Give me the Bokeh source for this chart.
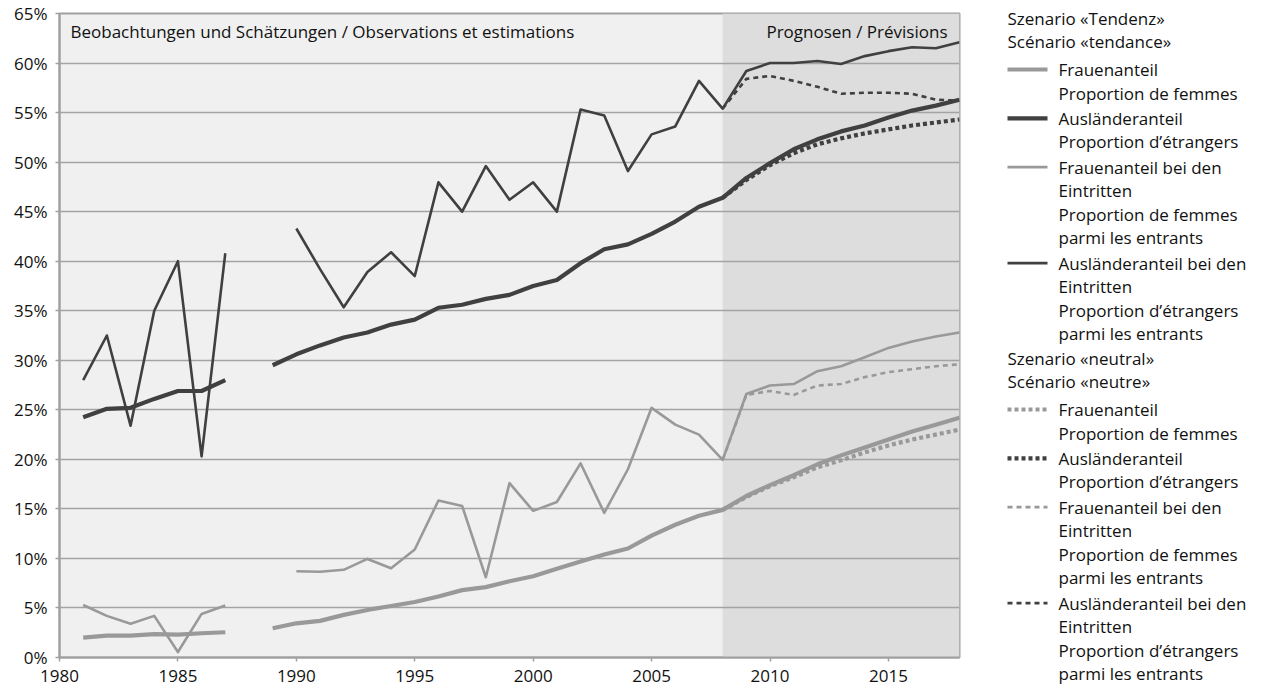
import math
from bokeh.plotting import figure
from bokeh.layouts import row
from bokeh.models import Range1d, FixedTicker, PrintfTickFormatter, BoxAnnotation, Label
from bokeh.core.properties import value
from bokeh.embed import file_html
from bokeh.resources import INLINE

NaN = float("nan")
FONT = "Open Sans"
FS = "17px"

# ---------------- data ----------------
hist_years = list(range(1981, 2009))
fc_years = list(range(2009, 2019))

frauen_hist = [2.0, 2.2, 2.2, 2.35, 2.3, 2.45, 2.55, NaN, 2.95, 3.45, 3.7, 4.3, 4.8, 5.2,
               5.6, 6.15, 6.8, 7.1, 7.7, 8.2, 8.95, 9.7, 10.4, 11.0, 12.3, 13.4, 14.3, 14.9]
frauen_tend = [16.3, 17.4, 18.4, 19.5, 20.4, 21.2, 22.0, 22.8, 23.5, 24.2]
frauen_neut = [16.2, 17.3, 18.2, 19.2, 19.9, 20.7, 21.4, 22.0, 22.5, 23.0]

ausl_hist = [24.25, 25.1, 25.2, 26.1, 26.9, 26.9, 28.0, NaN, 29.5, 30.6, 31.5, 32.3, 32.8, 33.6,
             34.1, 35.3, 35.6, 36.2, 36.6, 37.5, 38.1, 39.8, 41.2, 41.7, 42.75, 44.0, 45.5, 46.4]
ausl_tend = [48.4, 49.9, 51.3, 52.3, 53.1, 53.7, 54.5, 55.2, 55.7, 56.3]
ausl_neut = [48.2, 49.7, 50.9, 51.8, 52.4, 52.9, 53.3, 53.7, 54.0, 54.3]

frauen_ein_hist = [5.3, 4.2, 3.4, 4.2, 0.55, 4.4, 5.25, NaN, NaN, 8.7, 8.65, 8.85, 9.95, 9.0,
                   10.9, 15.85, 15.3, 8.1, 17.6, 14.8, 15.7, 19.6, 14.6, 19.0, 25.2, 23.5, 22.5, 19.95]
frauen_ein_tend = [26.6, 27.45, 27.6, 28.9, 29.4, 30.3, 31.25, 31.9, 32.4, 32.8]
frauen_ein_neut = [26.5, 26.9, 26.5, 27.45, 27.6, 28.3, 28.8, 29.1, 29.4, 29.6]

ausl_ein_hist = [28.0, 32.5, 23.4, 35.0, 40.0, 20.3, 40.8, NaN, NaN, 43.3, 39.2, 35.35, 38.9, 40.9,
                 38.5, 47.96, 45.0, 49.6, 46.2, 47.96, 45.0, 55.3, 54.7, 49.1, 52.8, 53.6, 58.2, 55.4]
ausl_ein_tend = [59.2, 60.0, 60.0, 60.2, 59.9, 60.7, 61.2, 61.6, 61.5, 62.1]
ausl_ein_neut = [58.4, 58.7, 58.2, 57.6, 56.9, 57.0, 57.0, 56.9, 56.3, 56.2]

y_ticks = list(range(0, 70, 5))
x_ticks = list(range(1980, 2020, 5))
forecast_start = 2008

obs_label = "Beobachtungen und Schätzungen / Observations et estimations"
fc_label = "Prognosen / Prévisions"
scen_titles = [["Szenario «Tendenz»", "Scénario «tendance»"],
               ["Szenario «neutral»", "Scénario «neutre»"]]
series_labels = [["Frauenanteil", "Proportion de femmes"],
                 ["Ausländeranteil", "Proportion d’étrangers"],
                 ["Frauenanteil bei den", "Eintritten", "Proportion de femmes", "parmi les entrants"],
                 ["Ausländeranteil bei den", "Eintritten", "Proportion d’étrangers", "parmi les entrants"]]

# ---------------- styles ----------------
LIGHT = "#999999"
DARK = "#404040"
solid_styles = [dict(color=LIGHT, width=4.2), dict(color=DARK, width=4.2),
                dict(color=LIGHT, width=2.6), dict(color=DARK, width=2.6)]
dash_styles = [dict(color=LIGHT, width=4.2, dash="4 3"), dict(color=DARK, width=4.2, dash="4 3"),
               dict(color=LIGHT, width=2.6, dash="5 4"), dict(color=DARK, width=2.6, dash="5 4")]

series = [(frauen_hist, frauen_tend, frauen_neut),
          (ausl_hist, ausl_tend, ausl_neut),
          (frauen_ein_hist, frauen_ein_tend, frauen_ein_neut),
          (ausl_ein_hist, ausl_ein_tend, ausl_ein_neut)]

GRID = "#a3a3a3"
TEXT = "#111111"

# ---------------- main chart ----------------
MAIN_W = 965
H = 690
B_TOP, B_BOT = 13, 33
p = figure(width=MAIN_W, height=H, x_range=Range1d(1980, 2018), y_range=Range1d(0, 65),
           output_backend="svg", toolbar_location=None,
           min_border_left=59, min_border_right=6, min_border_top=B_TOP, min_border_bottom=B_BOT,
           background_fill_color="#f0f0f0", border_fill_color="white",
           outline_line_color="#a0a0a0", outline_line_width=2)
p.xgrid.visible = False
p.ygrid.ticker = FixedTicker(ticks=y_ticks)
p.ygrid.grid_line_color = GRID
p.ygrid.grid_line_width = 1.3
p.ygrid.level = "underlay"

shade = BoxAnnotation(left=forecast_start, right=2018, fill_color="#dcdddc", fill_alpha=1.0,
                      line_color=None, level="image")
p.add_layout(shade)

for ax in (p.xaxis[0], p.yaxis[0]):
    ax.axis_line_color = "#a0a0a0"
    ax.axis_line_width = 2
    ax.major_tick_line_color = "#a0a0a0"
    ax.major_tick_line_width = 1.5
    ax.major_tick_in = 0
    ax.major_tick_out = 4
    ax.minor_tick_line_color = None
    ax.major_label_text_font = FONT
    ax.major_label_text_font_size = FS
    ax.major_label_text_color = TEXT
p.yaxis.ticker = FixedTicker(ticks=y_ticks)
p.yaxis.formatter = PrintfTickFormatter(format="%d%%")
p.yaxis.major_label_standoff = 8
p.xaxis.ticker = FixedTicker(ticks=x_ticks)
p.xaxis.major_label_standoff = 8

for (hist, tend, neut), s_dash in zip(series, dash_styles):
    neut_x = [hist_years[-1]] + fc_years
    neut_y = [hist[-1]] + neut
    p.line(neut_x, neut_y, line_color=s_dash["color"], line_width=s_dash["width"],
           line_dash=s_dash["dash"])
for (hist, tend, neut), s_sol in zip(series, solid_styles):
    p.line(hist_years + fc_years, hist + tend, line_color=s_sol["color"],
           line_width=s_sol["width"], line_join="round")

p.add_layout(Label(x=1980, y=65, x_offset=11, y_offset=-18, text=obs_label,
                   text_font=FONT, text_font_size=FS, text_color=TEXT,
                   text_align="left", text_baseline="middle"))
p.add_layout(Label(x=2018, y=65, x_offset=-12, y_offset=-18, text=fc_label,
                   text_font=FONT, text_font_size=FS, text_color=TEXT,
                   text_align="right", text_baseline="middle"))

# ---------------- legend panel (data coords = page pixels) ----------------
LW = 1262 - MAIN_W
lp = figure(width=LW, height=H, x_range=Range1d(0, LW), y_range=Range1d(H, 0),
            output_backend="svg", toolbar_location=None, min_border=0,
            x_axis_type=None, y_axis_type=None, outline_line_color=None,
            background_fill_color="white", border_fill_color="white")
lp.frame_align = False
lp.grid.visible = False

head_x, samp_x0, samp_x1, lab_x = 42, 42, 82, 93
line_step = 23.6
entry_gap = 1.6
block_offset = 340
top = 18

tx, ty, tt = [], [], []
for b, (titles, styles) in enumerate(zip(scen_titles, [solid_styles, dash_styles])):
    y0 = top + b * block_offset
    tx += [head_x, head_x]
    ty += [y0, y0 + 23]
    tt += titles
    y = y0 + 51
    for labels, st in zip(series_labels, styles):
        kw = dict(line_color=st["color"], line_width=st["width"])
        if "dash" in st:
            kw["line_dash"] = st["dash"]
        lp.line([samp_x0, samp_x1], [y, y], **kw)
        for k, lab in enumerate(labels):
            tx.append(lab_x)
            ty.append(y + k * line_step)
            tt.append(lab)
        y += len(labels) * line_step + entry_gap

lp.text(x=tx, y=ty, text=tt, text_font=value(FONT), text_font_size=FS,
        text_color=TEXT, text_baseline="middle", text_align="left")

layout = row(p, lp)
open("out.html", "w").write(file_html(layout, INLINE))
